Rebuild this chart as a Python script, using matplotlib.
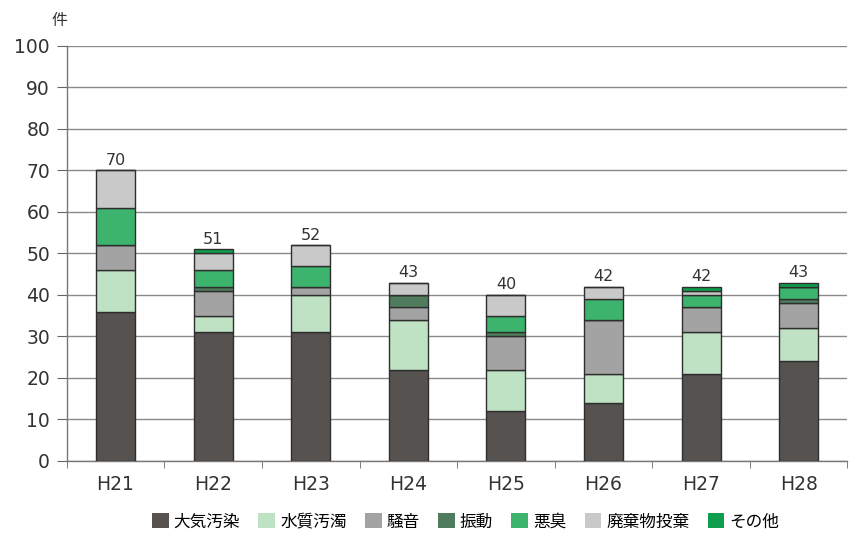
import matplotlib
matplotlib.use("Agg")
import matplotlib.pyplot as plt
import numpy as np
from matplotlib.patches import Patch

plt.rcParams["font.family"] = ["DejaVu Sans", "Noto Sans CJK JP"]

years = ["H21", "H22", "H23", "H24", "H25", "H26", "H27", "H28"]
totals = [70, 51, 52, 43, 40, 42, 42, 43]

# 件数（内訳）
air = [36, 31, 31, 22, 12, 14, 21, 24]
water = [10, 4, 9, 12, 10, 7, 10, 8]
noise = [6, 6, 2, 3, 8, 13, 6, 6]
vibration = [0, 1, 0, 3, 1, 0, 0, 1]
odor = [9, 4, 5, 0, 4, 5, 3, 3]
dumping = [9, 4, 5, 3, 5, 3, 1, 0]
other = [0, 1, 0, 0, 0, 0, 1, 1]

series = [
    ("大気汚染", air, "#55524f"),
    ("水質汚濁", water, "#bfe2c4"),
    ("騒音", noise, "#a3a3a3"),
    ("振動", vibration, "#4e7c5c"),
    ("悪臭", odor, "#3db46d"),
    ("廃棄物投棄", dumping, "#c9c9c9"),
    ("その他", other, "#0f9e4e"),
]

fig = plt.figure(figsize=(8.56, 5.41), dpi=100)
ax = fig.add_axes([0.078, 0.148, 0.912, 0.767])

x = np.arange(len(years))
bottom = np.zeros(len(years))
for name, vals, color in series:
    vals = np.array(vals, dtype=float)
    ax.bar(x, vals, 0.4, bottom=bottom, color=color, edgecolor="#2e2e2e",
           linewidth=1.0, zorder=3)
    bottom += vals

for xi, t in zip(x, totals):
    ax.text(xi, t + 0.6, str(t), ha="center", va="bottom", fontsize=11.5,
            color="#333333")

ax.set_xlim(-0.5, len(years) - 0.5)
ax.set_ylim(0, 100)
ax.set_yticks(np.arange(0, 101, 10))
ax.set_xticks(x)
ax.set_xticklabels(years)
ax.set_xticks(np.arange(-0.5, len(years), 1.0), minor=True)
ax.tick_params(axis="x", which="major", length=0, labelsize=13.5, pad=10,
               labelcolor="#333333")
ax.tick_params(axis="x", which="minor", length=5, color="#666666", direction="out")
ax.tick_params(axis="y", length=7, color="#666666", labelsize=13.5, pad=5,
               labelcolor="#333333")

ax.grid(axis="y", color="#8a8a8a", linewidth=1.0, zorder=0)
for side in ["top", "right"]:
    ax.spines[side].set_visible(False)
for side in ["left", "bottom"]:
    ax.spines[side].set_color("#777777")
    ax.spines[side].set_linewidth(1.0)

fig.text(0.07, 0.962, "件", ha="center", va="center", fontsize=11.5,
         color="#333333", family=["Noto Sans CJK JP", "DejaVu Sans"])

handles = [Patch(facecolor=c, edgecolor="none", label=n) for n, _, c in series]
fig.legend(handles=handles, loc="center", bbox_to_anchor=(0.544, 0.035),
           ncol=7, frameon=False, handlelength=1.0, handleheight=1.0,
           handletextpad=0.3, columnspacing=1.1,
           prop={"family": ["Noto Sans CJK JP", "DejaVu Sans"], "size": 12})

fig.savefig("out.png", dpi=100)
